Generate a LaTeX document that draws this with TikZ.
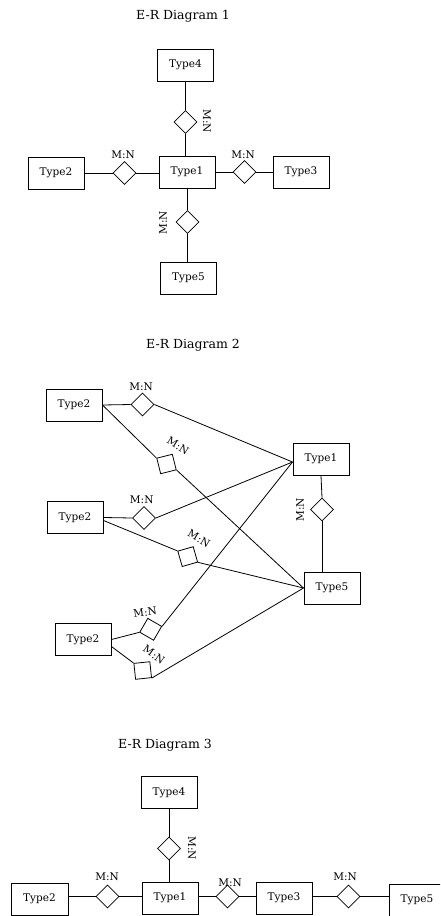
\documentclass[tikz,border=0pt]{standalone}
\usepackage{fontspec}
\setmainfont{DejaVu Serif}
\usetikzlibrary{shapes.geometric,calc}
\tikzset{
  ent/.style={draw, line width=1pt, rectangle, minimum width=56, minimum height=32, inner sep=0pt, font=\fontsize{10.5}{12}\selectfont},
  rel/.style={draw, line width=0.8pt, diamond, inner sep=0pt, minimum width=23, minimum height=23},
  relsq/.style={draw, line width=0.8pt, rectangle, inner sep=0pt, minimum size=16},
  card/.style={font=\fontsize{10.5}{12}\selectfont, inner sep=0pt},
  ttl/.style={font=\fontsize{12.5}{15}\selectfont, inner sep=0pt},
  conn/.style={line width=0.8pt}
}
\begin{document}
\begin{tikzpicture}[x=1pt,y=-1pt]
\clip (0,0) rectangle (440,916);
\fill[white] (0,0) rectangle (440,916);

% ---------- Diagram 1 ----------
\node[ttl] (title1) at (183,16) {E-R Diagram 1};
\node[ent] (a4) at (185.5,65) {Type4};
\node[rel] (ad4) at (185.5,122) {};
\node[card, rotate=-90] (al4) at (207,121) {M:N};
\node[ent] (a1) at (187,172) {Type1};
\node[ent] (a2) at (56,173) {Type2};
\node[rel] (ad2) at (124.5,173) {};
\node[card] (al2) at (123,155) {M:N};
\node[rel] (ad3) at (244.5,172) {};
\node[card] (al3) at (243,155) {M:N};
\node[ent] (a3) at (301,172) {Type3};
\node[rel] (ad5) at (187.5,222) {};
\node[card, rotate=90] (al5) at (163,223) {M:N};
\node[ent] (a5) at (188.5,278) {Type5};

\draw[conn] (a4.south) -- (ad4.north);
\draw[conn] (ad4.south) -- (ad4.south |- a1.north);
\draw[conn] (a2.east) -- (ad2.west);
\draw[conn] (ad2.east) -- (ad2.east -| a1.west);
\draw[conn] (a1.east) -- (a1.east -| ad3.west);
\draw[conn] (ad3.east) -- (ad3.east -| a3.west);
\draw[conn] (ad5.north |- a1.south) -- (ad5.north);
\draw[conn] (ad5.south) -- (ad5.south |- a5.north);

% ---------- Diagram 2 ----------
\node[ttl] (title2) at (193,345) {E-R Diagram 2};
\node[ent] (b2a) at (74,405) {Type2};
\node[ent] (b2b) at (75,517.5) {Type2};
\node[ent] (b2c) at (83,639.5) {Type2};
\node[ent] (b1) at (321,459) {Type1};
\node[ent] (b5) at (332,588) {Type5};

\node[rel] (bda1) at (142.5,404.5) {};
\node[card] (bla1) at (141,387) {M:N};
\node[relsq, rotate=14] (bda2) at (166.5,464) {};
\node[card, rotate=-32] (bla2) at (178,446) {M:N};

\node[rel] (bdb1) at (144,518) {};
\node[card] (blb1) at (141.7,500) {M:N};
\node[relsq, rotate=16] (bdb2) at (187.7,556.6) {};
\node[card, rotate=-30] (blb2) at (199,538.5) {M:N};

\node[relsq, rotate=-30] (bdc1) at (150.7,629.3) {};
\node[card, rotate=8] (blc1) at (145,612.5) {M:N};
\node[relsq, rotate=6] (bdc2) at (142.7,670.5) {};
\node[card, rotate=-35] (blc2) at (154,654.5) {M:N};

\node[rel] (bd15) at (322,509.5) {};
\node[card, rotate=90] (bl15) at (300,510) {M:N};

\coordinate (b1in) at ($(b1.west)+(0,3)$);
\coordinate (b2cout) at ($(b2c.east)+(0,7)$);

\draw[conn] (b2a.east) -- (bda1.west);
\draw[conn] (bda1.east) -- (b1in);
\draw[conn] (b2a.east) -- (bda2.north west);
\draw[conn] (bda2.south east) -- (b5.west);

\draw[conn] (b2b.east) -- (bdb1.west);
\draw[conn] (bdb1.east) -- (b1in);
\draw[conn] ($(b2b.east)+(0,3)$) -- (bdb2.north west);
\draw[conn] (bdb2.south east) -- (b5.west);

\draw[conn] (b2c.east) -- (bdc1.south west);
\draw[conn] (bdc1.north east) -- (b1in);
\draw[conn] (b2cout) -- (bdc2.north west);
\draw[conn] (bdc2.south east) -- (b5.west);

\draw[conn] (b1.south) -- (bd15.north);
\draw[conn] (bd15.south) -- (bd15.south |- b5.north);

% ---------- Diagram 3 ----------
\node[ttl] (title3) at (165,745) {E-R Diagram 3};
\node[ent] (c4) at (169,792.5) {Type4};
\node[rel] (cd4) at (169,848.5) {};
\node[card, rotate=-90] (cl4) at (192,848) {M:N};
\node[ent] (c1) at (170,898) {Type1};
\node[ent, minimum width=57] (c2) at (39.5,899) {Type2};
\node[rel] (cd2) at (107.5,896.5) {};
\node[card] (cl2) at (107,877) {M:N};
\node[rel] (cd3) at (227.5,896.5) {};
\node[card] (cl3) at (230,883) {M:N};
\node[ent] (c3) at (284,898) {Type3};
\node[rel] (cd5) at (348.5,896.5) {};
\node[card] (cl5) at (345,877) {M:N};
\node[ent] (c5) at (417,900) {Type5};

\draw[conn] (c4.south) -- (cd4.north);
\draw[conn] (cd4.south) -- (cd4.south |- c1.north);
\draw[conn] (cd2.west -| c2.east) -- (cd2.west);
\draw[conn] (cd2.east) -- (cd2.east -| c1.west);
\draw[conn] (cd3.west -| c1.east) -- (cd3.west);
\draw[conn] (cd3.east) -- (cd3.east -| c3.west);
\draw[conn] (cd5.west -| c3.east) -- (cd5.west);
\draw[conn] (cd5.east) -- (cd5.east -| c5.west);
\end{tikzpicture}
\end{document}
